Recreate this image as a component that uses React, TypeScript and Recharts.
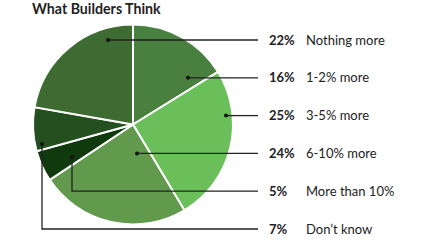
import { Cell, Pie, PieChart } from "recharts";

// slices in clockwise order starting at 12 o'clock
const categories = ["1-2% more", "3-5% more", "6-10% more", "More than 10%", "Don\u2019t know", "Nothing more"];
const shares = [16, 25, 24, 5, 7, 22];
const colors = ["#4a803f", "#6bbf5b", "#619a4c", "#103a0e", "#24501f", "#3d6b32"];

const data = categories.map((name, i) => ({ name, value: shares[i] }));

// where each leader line starts inside its slice (in radius units from centre)
// and which legend row it runs to
const leaders: Record<string, { row: number; dx: number; dy?: number }> = {
    "Nothing more": { row: 0, dx: -0.25 },
    "1-2% more": { row: 1, dx: 0.55 },
    "3-5% more": { row: 2, dx: 0.93 },
    "6-10% more": { row: 3, dx: 0.04 },
    "More than 10%": { row: 4, dx: -0.61, dy: 0.325 },
    "Don\u2019t know": { row: 5, dx: -0.91, dy: 0.195 },
};

const ROW_TOP = 40;
const ROW_STEP = 37.8;
const LINE_END = 258;
const PCT_X = 269;
const TEXT_X = 306;
const FONT = "Lato, 'Open Sans', sans-serif";

function LeaderLabel(props: any) {
    const { cx, cy, outerRadius, name, value } = props;
    const l = leaders[name];
    if (!l) return null;
    const rowY = ROW_TOP + l.row * ROW_STEP;
    const x0 = cx + l.dx * outerRadius;
    const y0 = l.dy !== undefined ? cy + l.dy * outerRadius : rowY;
    const d = l.dy !== undefined
        ? `M${x0},${y0} L${x0},${rowY} L${LINE_END},${rowY}`
        : `M${x0},${y0} L${LINE_END},${rowY}`;
    return (
        <g>
            <path d={d} stroke="#222" strokeWidth={1.3} fill="none" />
            <circle cx={x0} cy={y0} r={2} fill="#111" />
            <text x={PCT_X} y={rowY + 4.6} fontFamily={FONT} fontSize={13} fontWeight={700} fill="#222">
                {value}%
            </text>
            <text x={TEXT_X} y={rowY + 4.6} fontFamily={FONT} fontSize={13} fill="#222">
                {name}
            </text>
        </g>
    );
}

export default function App() {
    return (
        <div style={{ position: "absolute", left: 0, top: 0, background: "#fff" }}>
            <PieChart width={438} height={241} margin={{ top: 0, right: 0, bottom: 0, left: 0 }}>
                <text x={32} y={14} fontFamily={FONT} fontSize={14.2} fontWeight={700} fill="#222">
                    What Builders Think
                </text>
                <Pie
                    data={data}
                    dataKey="value"
                    nameKey="name"
                    cx={133}
                    cy={124.5}
                    outerRadius={100}
                    startAngle={90}
                    endAngle={-270}
                    stroke="#fff"
                    strokeWidth={2}
                    label={LeaderLabel}
                    labelLine={false}
                    isAnimationActive={false}
                >
                    {data.map((d, i) => <Cell key={d.name} fill={colors[i]} />)}
                </Pie>
            </PieChart>
        </div>
    );
}
